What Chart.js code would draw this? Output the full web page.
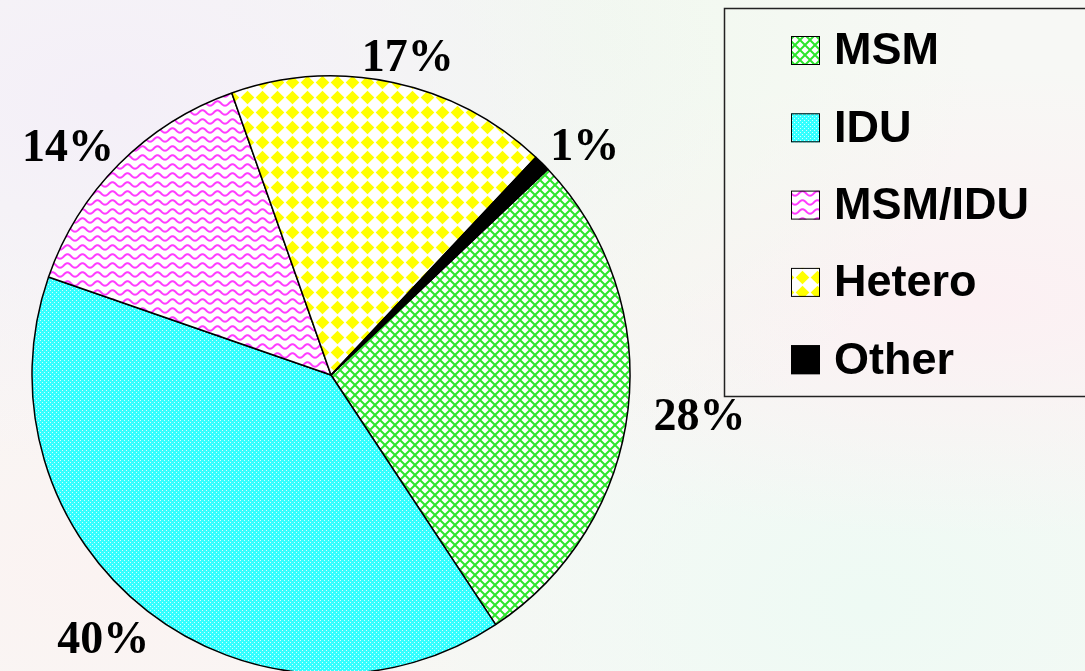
<!DOCTYPE html>
<html>
<head>
<meta charset="utf-8">
<script src="https://cdn.jsdelivr.net/npm/chart.js@4.4.1/dist/chart.umd.min.js"></script>
<style>
  html, body { margin: 0; padding: 0; }
  body {
    width: 1085px; height: 671px; overflow: hidden;
    background:
      radial-gradient(ellipse at 10% 15%, #f4eff8 0%, rgba(244,239,248,0) 45%),
      radial-gradient(ellipse at 55% 5%, #f1f9ef 0%, rgba(241,249,239,0) 45%),
      radial-gradient(ellipse at 90% 45%, #fcf0f3 0%, rgba(252,240,243,0) 45%),
      radial-gradient(ellipse at 80% 90%, #eefaf4 0%, rgba(238,250,244,0) 45%),
      radial-gradient(ellipse at 10% 85%, #fbf3f2 0%, rgba(251,243,242,0) 45%),
      #f7f8f5;
  }
  canvas { display: block; }
</style>
</head>
<body>
<canvas id="chart" width="1085" height="671"></canvas>
<script>
// values (percent of cases)
const categories = ["MSM", "IDU", "MSM/IDU", "Hetero", "Other"];
const shares = [27.8, 39.6, 14.3, 17.4, 0.9];

// small canvas tiles used as fill patterns
function makeTile(w, h, draw) {
  const c = document.createElement("canvas");
  c.width = w;
  c.height = h;
  const g = c.getContext("2d");
  draw(g, w, h);
  return g.createPattern(c, "repeat");
}

const crossHatch = makeTile(10, 10, (g, w, h) => {
  g.fillStyle = "#fff";
  g.fillRect(0, 0, w, h);
  g.strokeStyle = "#2ee62e";
  g.lineWidth = 2;
  g.beginPath();
  g.moveTo(0, 0); g.lineTo(w, h);
  g.moveTo(w, 0); g.lineTo(0, h);
  g.stroke();
});

const cyanDots = makeTile(4, 4, (g, w, h) => {
  g.fillStyle = "#33ffff";
  g.fillRect(0, 0, w, h);
  g.fillStyle = "#d0ffff";
  g.fillRect(0, 0, 1, 1);
  g.fillRect(2, 2, 1, 1);
});

const pinkWaves = makeTile(15, 9, (g, w, h) => {
  g.fillStyle = "#fff";
  g.fillRect(0, 0, w, h);
  g.strokeStyle = "#ff3cff";
  g.lineWidth = 2;
  g.beginPath();
  for (let x = 0; x <= w; x++) {
    const y = 4.5 + 2.3 * Math.cos((x / w) * Math.PI * 2);
    if (x === 0) g.moveTo(x, y); else g.lineTo(x, y);
  }
  g.stroke();
});

const yellowDiamonds = makeTile(15, 15, (g, w, h) => {
  g.fillStyle = "#fff";
  g.fillRect(0, 0, w, h);
  g.fillStyle = "#ffff00";
  const c = w / 2, d = 6.8;
  g.beginPath();
  g.moveTo(c, c - d); g.lineTo(c + d, c); g.lineTo(c, c + d); g.lineTo(c - d, c);
  g.closePath();
  g.fill();
});

const fills = [crossHatch, cyanDots, pinkWaves, yellowDiamonds, "#000"];

// percentage labels outside each slice
const outsideLabels = {
  id: "outsideLabels",
  afterDatasetsDraw(chart) {
    const ctx = chart.ctx;
    const meta = chart.getDatasetMeta(0);
    const data = chart.data.datasets[0].data;
    ctx.save();
    ctx.font = "bold 46px 'Liberation Serif', 'Times New Roman', serif";
    ctx.fillStyle = "#000";
    ctx.textAlign = "center";
    ctx.textBaseline = "middle";
    meta.data.forEach((arc, i) => {
      const p = arc.getProps(["x", "y", "startAngle", "endAngle", "outerRadius"], true);
      const mid = (p.startAngle + p.endAngle) / 2;
      const text = Math.round(data[i]) + "%";
      const w = ctx.measureText(text).width;
      const R = p.outerRadius + 26;
      const lx = p.x + R * Math.cos(mid) + (w / 2) * Math.cos(mid);
      const ly = p.y + R * 0.96 * Math.sin(mid) + 17 * Math.sin(mid) + 6;
      ctx.fillText(text, lx, ly);
    });
    ctx.restore();
  }
};

// boxed legend at the top right
const boxLegend = {
  id: "boxLegend",
  afterDraw(chart) {
    const ctx = chart.ctx;
    const ds = chart.data.datasets[0];
    ctx.save();
    ctx.strokeStyle = "#222";
    ctx.lineWidth = 1.5;
    ctx.strokeRect(724.5, 8.5, 400, 388);
    ctx.font = "bold 45px 'Liberation Sans', Arial, sans-serif";
    ctx.textBaseline = "middle";
    chart.data.labels.forEach((label, i) => {
      const cy = 50 + i * 77.3;
      ctx.fillStyle = ds.backgroundColor[i];
      ctx.fillRect(791, cy - 14, 29, 29);
      ctx.strokeStyle = "#000";
      ctx.lineWidth = 1;
      ctx.strokeRect(791.5, cy - 13.5, 28, 28);
      ctx.fillStyle = "#000";
      ctx.fillText(label, 834, cy + 2);
    });
    ctx.restore();
  }
};

new Chart(document.getElementById("chart"), {
  type: "pie",
  data: {
    labels: categories,
    datasets: [
      {
        data: shares,
        backgroundColor: fills,
        borderColor: "#000",
        borderWidth: 1.5,
        hoverOffset: 0,
      },
    ],
  },
  options: {
    responsive: false,
    animation: false,
    rotation: 46.5,
    radius: 299,
    layout: { padding: { left: 0, right: 423, top: 79, bottom: 0 } },
    plugins: {
      legend: { display: false },
      tooltip: { enabled: false },
    },
  },
  plugins: [outsideLabels, boxLegend],
});
</script>
</body>
</html>
